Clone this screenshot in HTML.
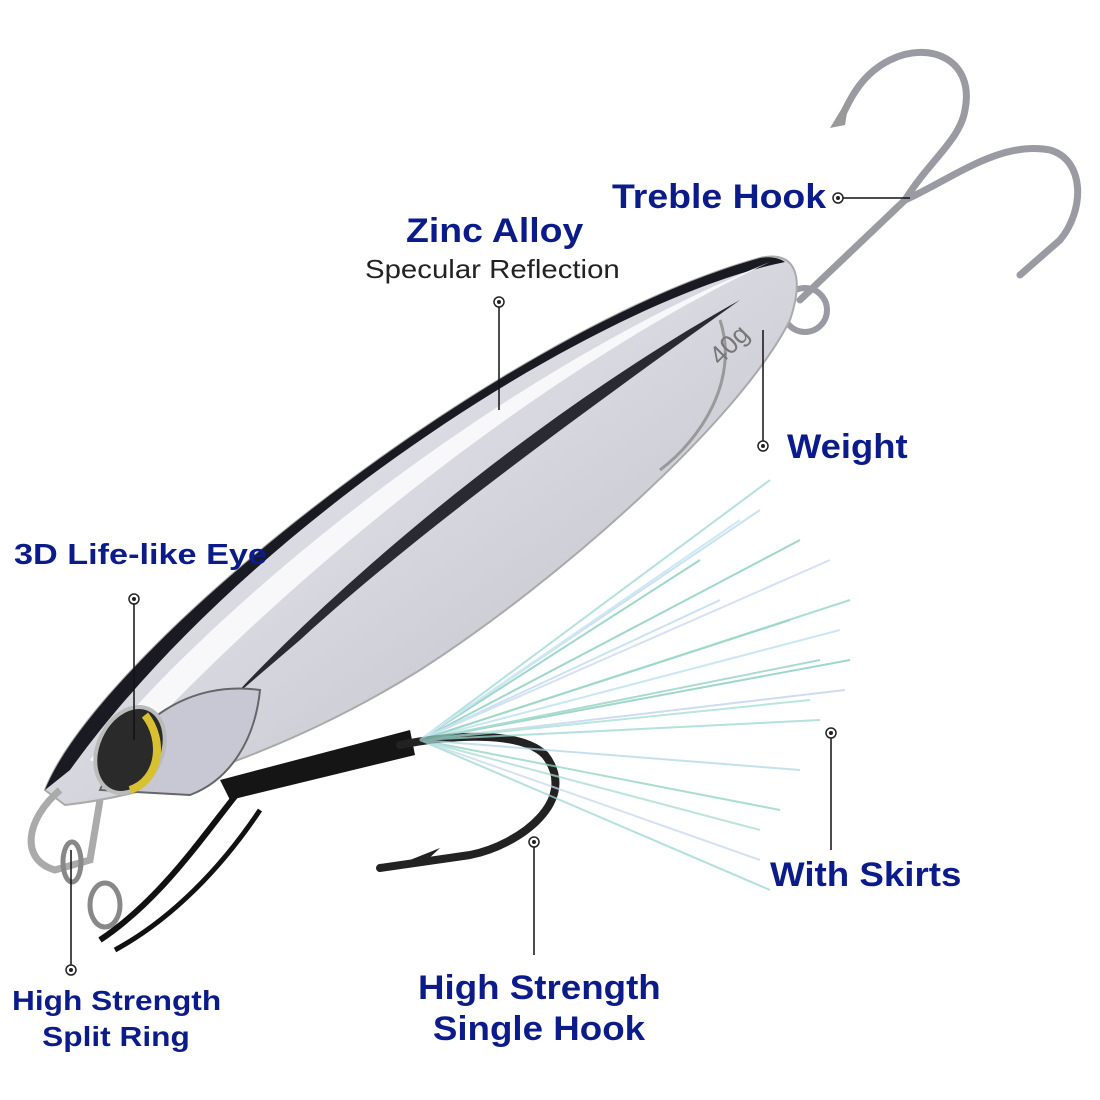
<!DOCTYPE html>
<html><head><meta charset="utf-8"><style>
html,body{margin:0;padding:0;background:#fff;}
body{width:1100px;height:1100px;position:relative;overflow:hidden;font-family:"Liberation Sans",Arial,sans-serif;}
.l{position:absolute;color:#0b1c8a;font-weight:bold;white-space:nowrap;line-height:1;transform-origin:0 0;}
</style></head><body>
<svg width="1100" height="1100" style="position:absolute;left:0;top:0">
<defs>
<linearGradient id="body" x1="0" y1="0" x2="1" y2="1">
<stop offset="0" stop-color="#f4f4f8"/><stop offset="0.5" stop-color="#d6d6de"/><stop offset="1" stop-color="#b9b9c4"/>
</linearGradient>
</defs>
<g fill="none" stroke="#9a9aa2" stroke-width="7" stroke-linecap="round">
<path d="M800 300 L905 200 C930 160 960 140 965 110 C975 60 930 40 890 60 C860 75 850 100 840 120"/>
<path d="M905 200 C950 180 1000 140 1050 150 C1085 160 1085 210 1060 240 L1020 275"/>
<circle cx="805" cy="310" r="22" stroke-width="6"/>
</g>
<path d="M830 128 L850 95 L845 125Z" fill="#999"/>
<path d="M45 790 C100 650 500 330 760 258 C795 250 805 275 790 320 C740 420 560 580 420 670 C300 745 160 795 65 805 Z" fill="url(#body)" stroke="#aaa" stroke-width="2"/>
<path d="M45 790 C100 650 500 330 760 258 C770 256 780 258 785 262 C600 300 250 520 70 770 Z" fill="#1a1a22"/>
<path d="M90 760 C200 620 480 380 770 262 C560 360 300 560 110 770 Z" fill="#f8f8fb"/>
<path d="M230 700 C360 560 560 400 740 300 C600 400 420 530 300 640 Z" fill="#2a2a33"/>
<path d="M720 320 C740 380 700 440 660 470" stroke="#999" stroke-width="3" fill="none"/>
<text x="705" y="360" font-family="Liberation Sans" font-size="26" fill="#777" transform="rotate(-45 720 345)">40g</text>
<path d="M100 790 C130 720 190 680 260 690 C255 740 230 780 190 795 Z" fill="#c8c8d4" stroke="#666" stroke-width="2"/>
<ellipse cx="130" cy="750" rx="32" ry="45" transform="rotate(25 130 750)" fill="#2a2a2a" stroke="#bbb" stroke-width="4"/>
<path d="M145 715 C165 740 160 780 130 790" stroke="#d8c030" stroke-width="8" fill="none"/>
<path d="M60 790 C25 820 20 860 55 870 L90 860 L100 800" fill="none" stroke="#aaa" stroke-width="7"/>
<ellipse cx="72" cy="862" rx="9" ry="20" fill="none" stroke="#888" stroke-width="5"/>
<ellipse cx="105" cy="905" rx="15" ry="22" fill="none" stroke="#888" stroke-width="5"/>
<path d="M100 940 C160 900 200 840 240 790" stroke="#111" stroke-width="6" fill="none"/>
<path d="M115 950 C170 920 220 870 260 810" stroke="#111" stroke-width="5" fill="none"/>
<path d="M230 800 L415 755 L410 730 L220 780 Z" fill="#151515"/>
<path d="M400 745 C450 735 520 730 545 755 C580 800 520 845 470 855 L380 868" stroke="#222" stroke-width="8" fill="none" stroke-linecap="round"/>
<path d="M410 860 L440 848 L425 862Z" fill="#222"/>
<g stroke-width="2" fill="none" opacity="0.75">
<path d="M420 740 L770 480" stroke="#9ad8d0"/>
<path d="M420 740 L760 510" stroke="#b9d8f0"/>
<path d="M420 740 L800 540" stroke="#7fcbb8"/>
<path d="M420 740 L830 560" stroke="#c8d8f0"/>
<path d="M420 740 L850 600" stroke="#8fd4c0"/>
<path d="M420 740 L840 630" stroke="#b8e0f0"/>
<path d="M420 740 L850 660" stroke="#7fcbb8"/>
<path d="M420 740 L845 690" stroke="#c0d0f0"/>
<path d="M420 740 L820 720" stroke="#9ad8d0"/>
<path d="M420 740 L800 770" stroke="#b0d8e8"/>
<path d="M420 740 L780 810" stroke="#8fd4c0"/>
<path d="M420 740 L760 860" stroke="#c8d8f0"/>
<path d="M420 740 L770 890" stroke="#9ad8d0"/>
<path d="M420 740 L700 560" stroke="#7fcbb8"/>
<path d="M420 740 L720 600" stroke="#b9d8f0"/>
<path d="M420 740 L790 620" stroke="#7fcbb8"/>
<path d="M420 740 L810 700" stroke="#a0e0d0"/>
<path d="M420 740 L740 520" stroke="#c0e0f0"/>
<path d="M420 740 L760 830" stroke="#a8dcd0"/>
<path d="M420 740 L820 660" stroke="#90d0c0"/>
</g>
<g stroke="#111" stroke-width="1.5" fill="none">
<line x1="838" y1="198" x2="910" y2="198"/>
<line x1="499" y1="302" x2="499" y2="410"/>
<line x1="763" y1="446" x2="763" y2="330"/>
<line x1="134" y1="599" x2="134" y2="740"/>
<line x1="831" y1="733" x2="831" y2="850"/>
<line x1="534" y1="842" x2="534" y2="955"/>
<line x1="71" y1="970" x2="71" y2="850"/>
</g>
<g fill="#fff" stroke="#222" stroke-width="1.5">
<circle cx="838" cy="198" r="5"/><circle cx="499" cy="302" r="5"/><circle cx="763" cy="446" r="5"/>
<circle cx="134" cy="599" r="5"/><circle cx="831" cy="733" r="5"/><circle cx="534" cy="842" r="5"/><circle cx="71" cy="970" r="5"/>
</g>
<g fill="#222"><circle cx="838" cy="198" r="2"/><circle cx="499" cy="302" r="2"/><circle cx="763" cy="446" r="2"/>
<circle cx="134" cy="599" r="2"/><circle cx="831" cy="733" r="2"/><circle cx="534" cy="842" r="2"/><circle cx="71" cy="970" r="2"/></g>
</svg>
<div class="l" style="left:612px;top:180px;font-size:34px;transform:scaleX(1.1)">Treble Hook</div>
<div class="l" style="left:406px;top:214px;font-size:34px;transform:scaleX(1.1)">Zinc Alloy</div>
<div class="l" style="left:365px;top:256px;font-size:26px;font-weight:normal;color:#222;transform:scaleX(1.13)">Specular Reflection</div>
<div class="l" style="left:787px;top:430px;font-size:34px;transform:scaleX(1.07)">Weight</div>
<div class="l" style="left:14px;top:541px;font-size:29px;transform:scaleX(1.18)">3D Life-like Eye</div>
<div class="l" style="left:770px;top:858px;font-size:34px;transform:scaleX(1.08)">With Skirts</div>
<div class="l" style="left:418px;top:968px;font-size:34px;text-align:center;width:224px;line-height:41px;transform:scaleX(1.08)">High Strength<br>Single Hook</div>
<div class="l" style="left:12px;top:983px;font-size:28px;text-align:center;width:184px;line-height:36px;transform:scaleX(1.13)">High Strength<br>Split Ring</div>
</body></html>
